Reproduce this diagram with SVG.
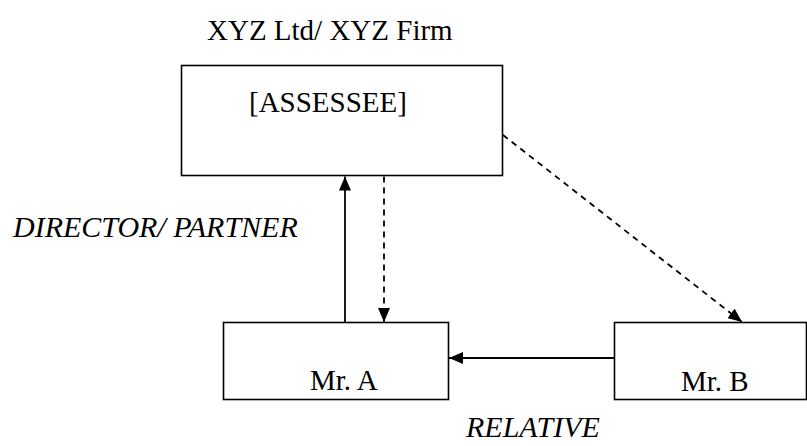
<svg xmlns="http://www.w3.org/2000/svg" width="807" height="446" viewBox="0 0 807 446">
<style>
.box{fill:#fff;stroke:#000;stroke-width:1.6}
.t{font-family:"Liberation Serif","Times New Roman",serif;font-size:29px;fill:#000}
.i{font-style:italic;font-size:30px}
.c{fill:none;stroke:#000;stroke-width:1.8}
.d{stroke-dasharray:6,5}
</style>
<defs>
<marker id="ah" viewBox="0 0 14 12" refX="14" refY="6" markerWidth="14" markerHeight="12" markerUnits="userSpaceOnUse" orient="auto">
<path d="M0,0 L14,6 L0,12 Z" fill="#000"/>
</marker>
</defs>
<text class="t" x="207" y="40">XYZ Ltd/ XYZ Firm</text>
<g id="assessee">
<rect class="box" x="181.5" y="65.5" width="321" height="110"/>
<text class="t" x="249" y="112">[ASSESSEE]</text>
</g>
<g id="mrA">
<rect class="box" x="223.5" y="322.5" width="225" height="77"/>
<text class="t" x="310" y="390">Mr. A</text>
</g>
<g id="mrB">
<rect class="box" x="614.5" y="322.5" width="192" height="77"/>
<text class="t" x="681" y="391">Mr. B</text>
</g>
<text class="t i" x="13" y="237">DIRECTOR/ PARTNER</text>
<text class="t i" x="466" y="437">RELATIVE</text>
<g id="connectors">
<line class="c" x1="345" y1="322" x2="345" y2="176.5" marker-end="url(#ah)"/>
<line class="c d" x1="384" y1="176.5" x2="384" y2="322" marker-end="url(#ah)"/>
<line class="c d" x1="503" y1="135" x2="742" y2="322" marker-end="url(#ah)"/>
<line class="c" x1="614" y1="358" x2="449" y2="358" marker-end="url(#ah)"/>
</g>
</svg>
